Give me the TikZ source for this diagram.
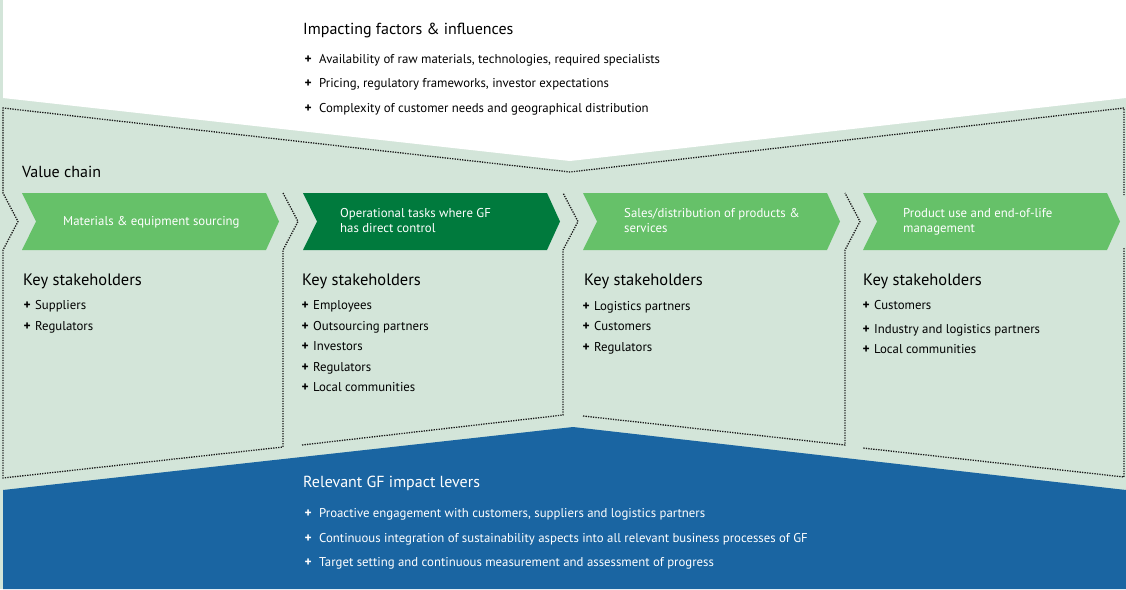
\documentclass[tikz,border=0pt]{standalone}
\usepackage{fontspec}
\setmainfont{PT Sans}
\definecolor{bgl}{HTML}{D3E5D9}
\definecolor{lg}{HTML}{66C169}
\definecolor{dg}{HTML}{007A3D}
\definecolor{bl}{HTML}{1A65A2}
\definecolor{dotc}{HTML}{1A1A1A}
\begin{document}
\begin{tikzpicture}[x=1pt,y=-1pt,
  dots/.style={draw=dotc, line width=1.3pt, dash pattern=on 1.3pt off 1.2pt},
  head/.style={anchor=base west, inner sep=0, font=\fontsize{16}{18}\selectfont},
  khead/.style={anchor=base west, inner sep=0, font=\fontsize{16.5}{18}\selectfont},
  item/.style={anchor=base west, inner sep=0, font=\fontsize{12.8}{14}\selectfont},
  plus/.style={anchor=base west, inner sep=0, font=\bfseries\fontsize{13.5}{14}\selectfont},
  chev/.style={anchor=base west, inner sep=0, text=white, font=\fontsize{12.8}{14}\selectfont},
]
\useasboundingbox (0,0) rectangle (1126,589);
\fill[bgl] (0,0) rectangle (1126,589);
\fill[white] (3,0) -- (1126,0) -- (1126,98) -- (570,161) -- (3,98) -- cycle;
\fill[bl] (3,490) -- (573,427) -- (1126,490) -- (1126,589) -- (3,589) -- cycle;
% dotted outlines
\draw[dots] (283,193) -- (298,221.5) -- (283,250) -- (283,447) -- (3,478) -- (3,250) -- (18,221.5) -- (3,193) -- (3,108) -- (570,172) -- (1124,108) -- (1124,195);
\draw[dots] (1124,248) -- (1124,477) -- (863,448);
\draw[dots] (302,445) -- (563,415) -- (563,250) -- (578,221.5) -- (563,193);
\draw[dots] (583,416) -- (845,445) -- (845,250) -- (860,221.5) -- (845,193);
% chevrons
\foreach \L/\c in {22/lg,303/dg,583/lg,863/lg}
  \fill[\c] (\L,193) -- (\L+244,193) -- (\L+257,221.5) -- (\L+244,250) -- (\L,250) -- (\L+14,221.5) -- cycle;
% top
\node[head] (ifh) at (303,34) {Impacting factors \& influences};
\node[plus] (ifp1) at (304.5,63) {+}; \node[item] (if1) at (319,63) {Availability of raw materials, technologies, required specialists};
\node[plus] (ifp2) at (304.5,87) {+}; \node[item] (if2) at (319,87) {Pricing, regulatory frameworks, investor expectations};
\node[plus] (ifp3) at (304.5,112) {+}; \node[item] (if3) at (319,112) {Complexity of customer needs and geographical distribution};
% value chain
\node[head] (vc) at (22,177) {Value chain};
\node[chev] (c1) at (63,225) {Materials \& equipment sourcing};
\node[chev] (c2a) at (340,217) {Operational tasks where GF};
\node[chev] (c2b) at (340,232) {has direct control};
\node[chev] (c3a) at (624,217) {Sales/distribution of products \&};
\node[chev] (c3b) at (624,232) {services};
\node[chev] (c4a) at (903,217) {Product use and end-of-life};
\node[chev] (c4b) at (903,232) {management};
% stakeholders
\node[khead] (k1) at (23,285) {Key stakeholders};
\node[plus] (k1p1) at (23.5,309) {+}; \node[item] (k1i1) at (35,309) {Suppliers};
\node[plus] (k1p2) at (23.5,330) {+}; \node[item] (k1i2) at (35,330) {Regulators};
\node[khead] (k2) at (302,285) {Key stakeholders};
\node[plus] (k2p1) at (301.5,309) {+}; \node[item] (k2i1) at (313,309) {Employees};
\node[plus] (k2p2) at (301.5,330) {+}; \node[item] (k2i2) at (313,330) {Outsourcing partners};
\node[plus] (k2p3) at (301.5,350) {+}; \node[item] (k2i3) at (313,350) {Investors};
\node[plus] (k2p4) at (301.5,371) {+}; \node[item] (k2i4) at (313,371) {Regulators};
\node[plus] (k2p5) at (301.5,391) {+}; \node[item] (k2i5) at (313,391) {Local communities};
\node[khead] (k3) at (584,285) {Key stakeholders};
\node[plus] (k3p1) at (582.5,310) {+}; \node[item] (k3i1) at (594,310) {Logistics partners};
\node[plus] (k3p2) at (582.5,330) {+}; \node[item] (k3i2) at (594,330) {Customers};
\node[plus] (k3p3) at (582.5,351) {+}; \node[item] (k3i3) at (594,351) {Regulators};
\node[khead] (k4) at (863,285) {Key stakeholders};
\node[plus] (k4p1) at (862.5,309) {+}; \node[item] (k4i1) at (874,309) {Customers};
\node[plus] (k4p2) at (862.5,333) {+}; \node[item] (k4i2) at (874,333) {Industry and logistics partners};
\node[plus] (k4p3) at (862.5,353) {+}; \node[item] (k4i3) at (874,353) {Local communities};
% bottom
\begin{scope}[text=white]
\node[head] (lh) at (303,487) {Relevant GF impact levers};
\node[plus] (lp1) at (304.5,517) {+}; \node[item] (l1) at (319,517) {Proactive engagement with customers, suppliers and logistics partners};
\node[plus] (lp2) at (304.5,542) {+}; \node[item] (l2) at (319,542) {Continuous integration of sustainability aspects into all relevant business processes of GF};
\node[plus] (lp3) at (304.5,566) {+}; \node[item] (l3) at (319,566) {Target setting and continuous measurement and assessment of progress};
\end{scope}
\end{tikzpicture}
\end{document}
